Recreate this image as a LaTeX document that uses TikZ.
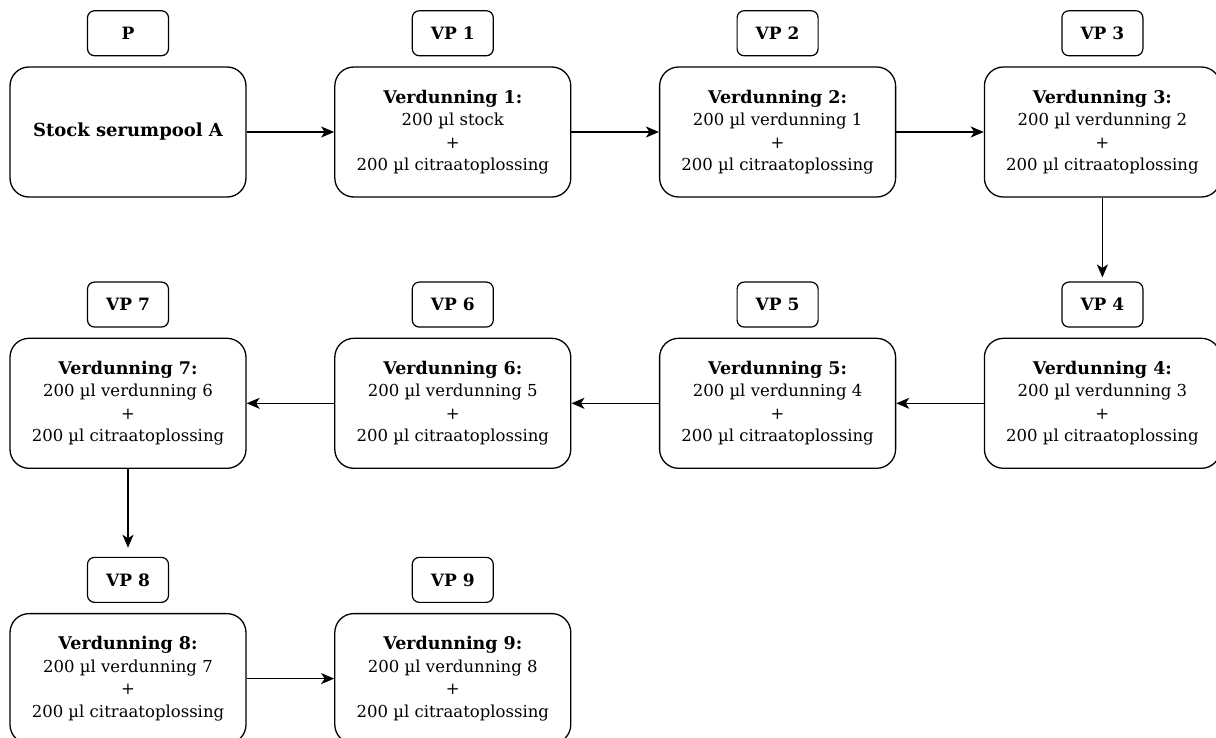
\documentclass[tikz,border=0pt]{standalone}
\usepackage{fontspec}
\setmainfont{DejaVu Serif}
\usepackage{tikz}
\usetikzlibrary{arrows.meta,positioning}
\newcommand{\kop}[1]{{\fontsize{17.5}{22.5}\selectfont\bfseries #1}}

\begin{document}
\begin{tikzpicture}[
    x=1pt, y=-1pt,
    node distance=140pt and 87.5pt,
    stap/.style={rectangle, draw=black, line width=1.3pt, minimum width=236pt, minimum height=130pt, align=center, font=\fontsize{16.5}{22.5}\selectfont, rounded corners=19pt},
    vptag/.style={rectangle, draw=black, line width=1.2pt, minimum width=81pt, minimum height=45pt, font=\fontsize{17}{20}\selectfont\bfseries, rounded corners=7pt},
    line/.style={draw, -{Stealth[length=13pt,width=11pt,inset=3.5pt]}, line width=1.3pt}
]
    \useasboundingbox (0,0) rectangle (1216,737);

    % Row 1
    \node[stap] (stock) at (128,132) {{\fontsize{18}{22.5}\selectfont\bfseries Stock serumpool A}};
    \node[stap, right=of stock] (v1) {\kop{Verdunning 1:}\\200 µl stock\\+\\200 µl citraatoplossing};
    \node[stap, right=of v1] (v2) {\kop{Verdunning 2:}\\200 µl verdunning 1\\+\\200 µl citraatoplossing};
    \node[stap, right=of v2] (v3) {\kop{Verdunning 3:}\\200 µl verdunning 2\\+\\200 µl citraatoplossing};

    % Row 2
    \node[stap, below=of v3] (v4) {\kop{Verdunning 4:}\\200 µl verdunning 3\\+\\200 µl citraatoplossing};
    \node[stap, left=of v4] (v5) {\kop{Verdunning 5:}\\200 µl verdunning 4\\+\\200 µl citraatoplossing};
    \node[stap, left=of v5] (v6) {\kop{Verdunning 6:}\\200 µl verdunning 5\\+\\200 µl citraatoplossing};
    \node[stap, left=of v6] (v7) {\kop{Verdunning 7:}\\200 µl verdunning 6\\+\\200 µl citraatoplossing};

    % Row 3
    \node[stap, below=144pt of v7] (v8) {\kop{Verdunning 8:}\\200 µl verdunning 7\\+\\200 µl citraatoplossing};
    \node[stap, right=of v8] (v9) {\kop{Verdunning 9:}\\200 µl verdunning 8\\+\\200 µl citraatoplossing};

    % Tags
    \node[vptag, above=10pt of stock] (p) {P};
    \node[vptag, above=10pt of v1] (vp1) {VP 1};
    \node[vptag, above=10pt of v2] (vp2) {VP 2};
    \node[vptag, above=10pt of v3] (vp3) {VP 3};
    \node[vptag, above=10pt of v4] (vp4) {VP 4};
    \node[vptag, above=10pt of v5] (vp5) {VP 5};
    \node[vptag, above=10pt of v6] (vp6) {VP 6};
    \node[vptag, above=10pt of v7] (vp7) {VP 7};
    \node[vptag, above=10pt of v8] (vp8) {VP 8};
    \node[vptag, above=10pt of v9] (vp9) {VP 9};

    % Connecting lines
    \path[line] (stock) -- (v1);
    \path[line] (v1) -- (v2);
    \path[line] (v2) -- (v3);
    \path[line, shorten >=4pt] (v3) -- (vp4);
    \path[line] (v4) -- (v5);
    \path[line] (v5) -- (v6);
    \path[line] (v6) -- (v7);
    \path[line, shorten >=9pt] (v7) -- (vp8);
    \path[line] (v8) -- (v9);
\end{tikzpicture}
\end{document}
